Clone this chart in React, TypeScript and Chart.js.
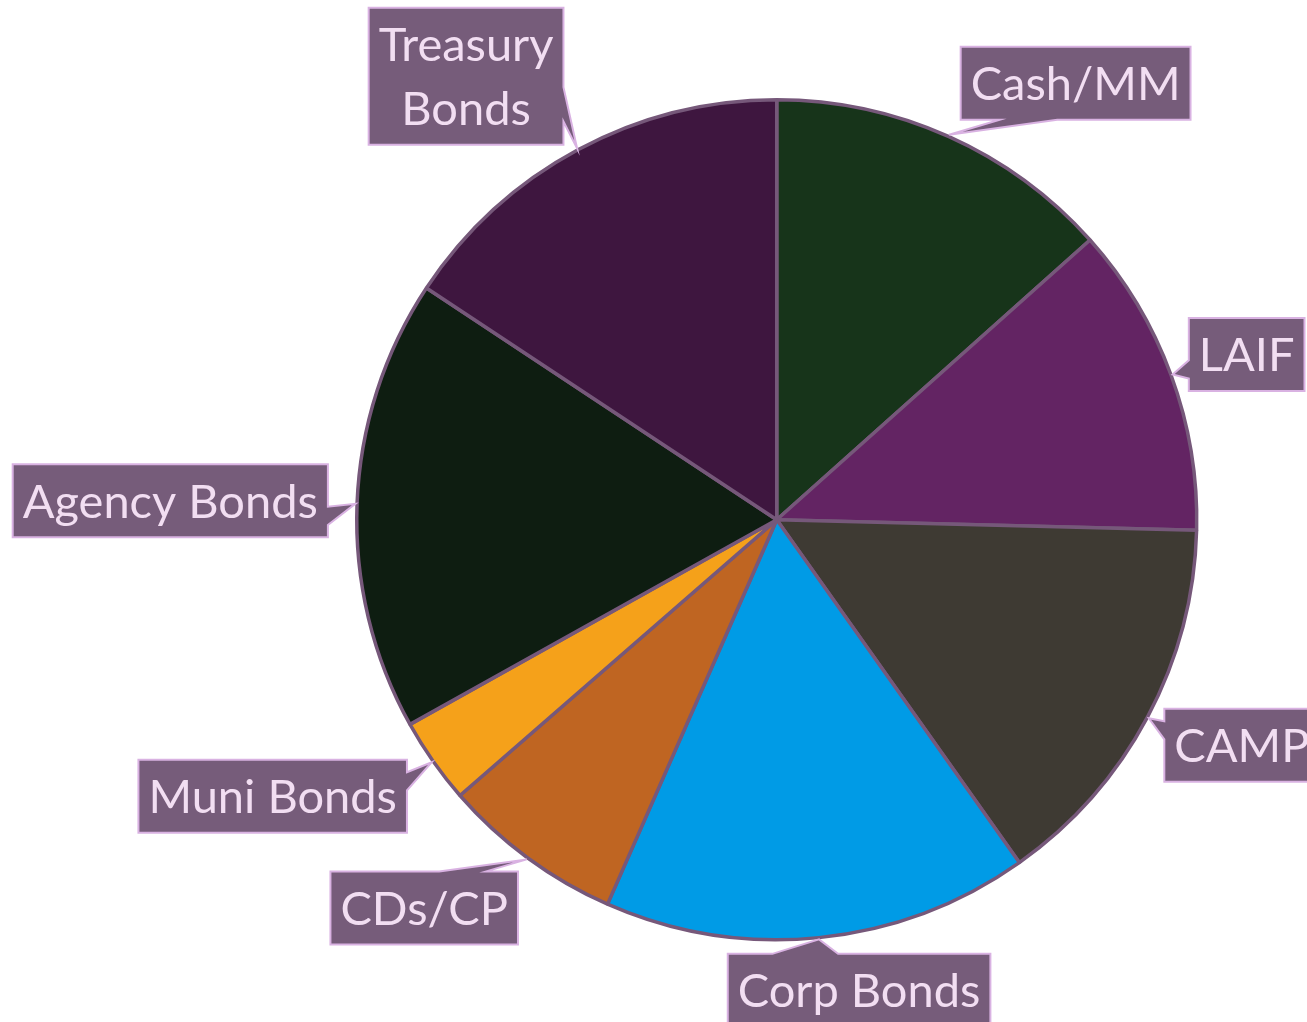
import React, { useEffect, useRef } from 'react';
import { Chart, registerables } from 'chart.js';

Chart.register(...registerables);

// ---- data ----
const categories: string[][] = [
  ['Cash/MM'],
  ['LAIF'],
  ['CAMP'],
  ['Corp Bonds'],
  ['CDs/CP'],
  ['Muni Bonds'],
  ['Agency Bonds'],
  ['Treasury', 'Bonds'],
];
const shares: number[] = [13.4, 12.0, 14.8, 16.4, 7.0, 3.3, 17.4, 15.7];
const sliceColors: string[] = ['#17341a', '#632463', '#3e3a33', '#009be6', '#bf6522', '#f5a11a', '#0e1d11', '#3e163f'];

// callout box centre offsets from the pointer tip (layout, not data)
const calloutOffsets: number[][] = [
  [126.5, -51.5],
  [74, -20],
  [93, 27],
  [40, 51],
  [-102.5, 48.5],
  [-159, 34],
  [-185, -3],
  [-111, -72],
];

const FONT_SIZE = 47;
const FONT = `${FONT_SIZE}px Lato`;
const LINE_H = 64;
const PAD_X = 10;
const PAD_Y = 4.5;
const BORDER_W = 3.5;

function calloutPath(ctx: CanvasRenderingContext2D, x0: number, y0: number, x1: number, y1: number, tx: number, ty: number) {
  const w = x1 - x0, h = y1 - y0;
  const cx = (x0 + x1) / 2, cy = (y0 + y1) / 2;
  const dx = tx - cx, dy = ty - cy;
  const side = Math.abs(dx) / (w / 2) > Math.abs(dy) / (h / 2);
  const lo = [0.17, 0.42], hi = [0.58, 0.83];
  ctx.beginPath();
  ctx.moveTo(x0, y0);
  if (!side && dy < 0) {
    const [a, b] = dx > 0 ? hi : lo;
    ctx.lineTo(x0 + a * w, y0); ctx.lineTo(tx, ty); ctx.lineTo(x0 + b * w, y0);
  }
  ctx.lineTo(x1, y0);
  if (side && dx > 0) {
    const [a, b] = dy > 0 ? hi : lo;
    ctx.lineTo(x1, y0 + a * h); ctx.lineTo(tx, ty); ctx.lineTo(x1, y0 + b * h);
  }
  ctx.lineTo(x1, y1);
  if (!side && dy > 0) {
    const [a, b] = dx > 0 ? hi : lo;
    ctx.lineTo(x0 + b * w, y1); ctx.lineTo(tx, ty); ctx.lineTo(x0 + a * w, y1);
  }
  ctx.lineTo(x0, y1);
  if (side && dx < 0) {
    const [a, b] = dy > 0 ? hi : lo;
    ctx.lineTo(x0, y0 + b * h); ctx.lineTo(tx, ty); ctx.lineTo(x0, y0 + a * h);
  }
  ctx.closePath();
}

const calloutPlugin = {
  id: 'callouts',
  afterDatasetsDraw(chart: any) {
    const ctx: CanvasRenderingContext2D = chart.ctx;
    const meta = chart.getDatasetMeta(0);
    const labels = chart.data.labels as string[][];
    ctx.save();
    ctx.font = FONT;
    meta.data.forEach((arc: any, i: number) => {
      const p = arc.getProps(['x', 'y', 'startAngle', 'endAngle', 'outerRadius'], true);
      const mid = (p.startAngle + p.endAngle) / 2;
      const r = p.outerRadius + BORDER_W / 2;
      const tx = p.x + Math.cos(mid) * r;
      const ty = p.y + Math.sin(mid) * r;
      const lines = labels[i];
      const tw = Math.max(...lines.map((l) => ctx.measureText(l).width));
      const bw = tw + PAD_X * 2;
      const bh = lines.length * LINE_H + PAD_Y * 2;
      const off = calloutOffsets[i];
      const cx = tx + off[0], cy = ty + off[1];
      const x0 = cx - bw / 2, y0 = cy - bh / 2;
      calloutPath(ctx, x0, y0, x0 + bw, y0 + bh, tx, ty);
      ctx.fillStyle = '#765c7a';
      ctx.fill();
      ctx.lineWidth = 2;
      ctx.strokeStyle = '#d9b2e2';
      ctx.lineJoin = 'miter';
      ctx.stroke();
      ctx.fillStyle = '#f2def2';
      ctx.textAlign = 'center';
      ctx.textBaseline = 'alphabetic';
      lines.forEach((l, k) => {
        const lc = y0 + PAD_Y + LINE_H * k + LINE_H / 2;
        ctx.fillText(l, cx, lc + FONT_SIZE * 0.72 / 2);
      });
    });
    ctx.restore();
  },
};

export default function App() {
  const ref = useRef<HTMLCanvasElement | null>(null);
  useEffect(() => {
    if (!ref.current) return;
    const chart = new Chart(ref.current, {
      type: 'pie',
      data: {
        labels: categories,
        datasets: [
          {
            data: shares,
            backgroundColor: sliceColors,
            borderColor: '#76587a',
            borderWidth: BORDER_W,
          },
        ],
      },
      options: {
        responsive: false,
        animation: false,
        layout: { padding: { left: 355, right: 108.5, top: 98, bottom: 80.5 } },
        plugins: {
          legend: { display: false },
          tooltip: { enabled: false },
        },
      },
      plugins: [calloutPlugin],
    });
    return () => chart.destroy();
  }, []);
  return (
    <div style={{ position: 'fixed', left: 0, top: 0, width: 1307, height: 1022, background: '#ffffff' }}>
      <canvas ref={ref} width={1307} height={1022} style={{ width: 1307, height: 1022, display: 'block' }} />
    </div>
  );
}
